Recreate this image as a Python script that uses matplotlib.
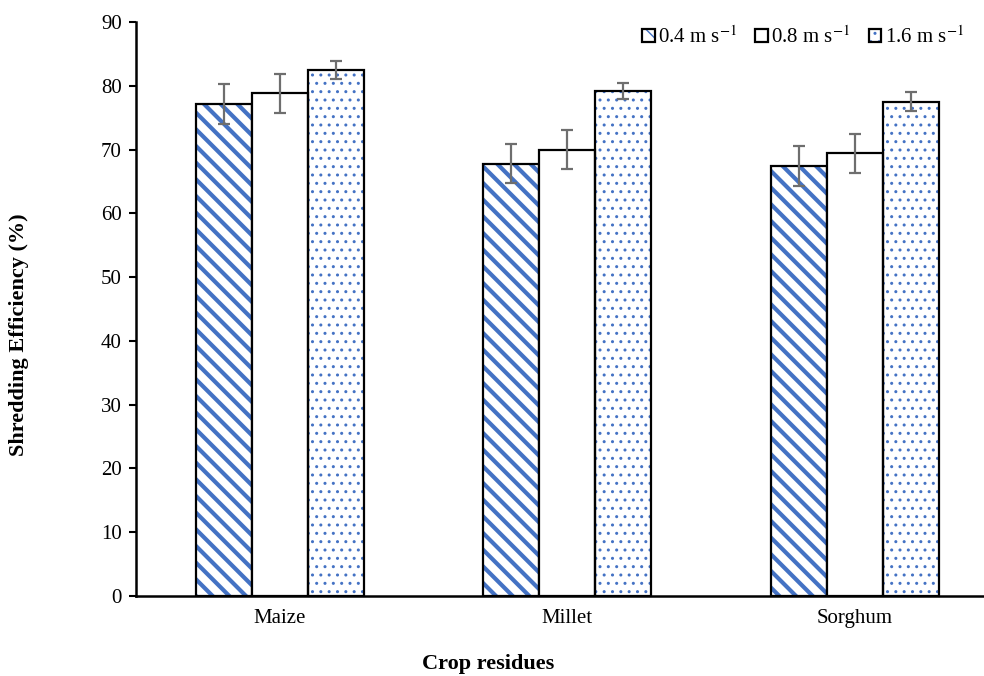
import matplotlib
matplotlib.use("Agg")
import matplotlib.pyplot as plt
import numpy as np
from matplotlib.patches import Patch
from matplotlib.legend_handler import HandlerTuple

plt.rcParams['font.family'] = ['Liberation Serif', 'DejaVu Serif']
plt.rcParams['mathtext.fontset'] = 'stix'

categories = ['Maize', 'Millet', 'Sorghum']
series = ['0.4 m s$^{-1}$', '0.8 m s$^{-1}$', '1.6 m s$^{-1}$']
v04 = [77.1, 67.8, 67.4]
v08 = [78.8, 70.0, 69.4]
v16 = [82.5, 79.2, 77.5]
e04 = [3.1, 3.1, 3.1]
e08 = [3.0, 3.0, 3.0]
e16 = [1.4, 1.3, 1.5]
yticks = [0, 10, 20, 30, 40, 50, 60, 70, 80, 90]

blue = '#4472C4'
fig = plt.figure(figsize=(9.84, 6.76), dpi=100)
ax = fig.add_axes([0.138, 0.1183, 0.862, 0.8492])

x = np.arange(len(categories))
w = 0.195
vals = [v04, v08, v16]
errs = [e04, e08, e16]
hatches = ['\\\\', None, '..']
hatch_lw = [3.0, 1.0, 1.0]
offsets = [-w, 0, w]


def hatched_patch(h, hlw):
    with plt.rc_context({'hatch.linewidth': hlw}):
        return Patch(facecolor='white', edgecolor=blue, hatch=h, linewidth=0)


for vs, es, h, hlw, off in zip(vals, errs, hatches, hatch_lw, offsets):
    if h is not None:
        with plt.rc_context({'hatch.linewidth': hlw}):
            ax.bar(x + off, vs, w, color='white', edgecolor=blue, hatch=h, linewidth=0, zorder=2)
    ax.bar(x + off, vs, w, color='none' if h else 'white', edgecolor='black', linewidth=1.6, zorder=3)
    ax.errorbar(x + off, vs, yerr=es, fmt='none', ecolor='#6e6e6e', elinewidth=1.6,
                capsize=4.5, capthick=1.6, zorder=4)

ax.set_xlim(-0.501, 2.449)
ax.set_ylim(0, 90)
ax.set_yticks(yticks)
ax.set_xticks(x)
ax.set_xticklabels(categories, fontsize=15)
ax.tick_params(axis='x', length=0, pad=9)
ax.tick_params(axis='y', length=5, width=1.5, labelsize=15, pad=5)
for s in ['top', 'right']:
    ax.spines[s].set_visible(False)
for s in ['left', 'bottom']:
    ax.spines[s].set_linewidth(1.8)

ax.set_ylabel('Shredding Efficiency (%)', fontsize=16, fontweight='bold')
ax.yaxis.set_label_coords(-0.126, 0.4547)
ax.set_xlabel('Crop residues', fontsize=16, fontweight='bold')
ax.xaxis.set_label_coords(0.415, -0.119)
ax.xaxis.label.set_va('center')

handles = []
for h, hlw in zip(hatches, hatch_lw):
    if h is not None:
        handles.append((hatched_patch(h, hlw),
                        Patch(facecolor='none', edgecolor='black', linewidth=1.6)))
    else:
        handles.append(Patch(facecolor='white', edgecolor='black', linewidth=1.6))
leg = ax.legend(handles, series, ncol=3, loc='upper right', bbox_to_anchor=(0.998, 1.025),
                frameon=False, fontsize=15, handlelength=0.6, handleheight=0.6,
                handletextpad=0.15, columnspacing=0.9,
                handler_map={tuple: HandlerTuple(ndivide=1, pad=0)})

fig.savefig('out.png', dpi=100)
